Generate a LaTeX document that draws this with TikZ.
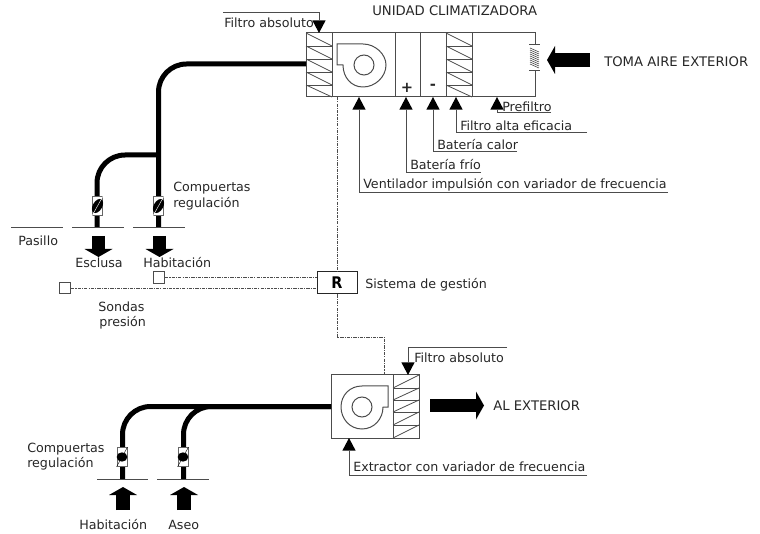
\documentclass[tikz,border=0pt]{standalone}
\usepackage{fontspec}
\setmainfont{DejaVu Sans}
\newfontfamily\regfont{DejaVu Sans Condensed}
\usetikzlibrary{arrows.meta,shapes.geometric}

\tikzset{
    txt/.style={anchor=base west, inner sep=0pt, text=black!85, font=\fontsize{9.5}{12}\selectfont},
    caps/.style={txt, font=\fontsize{9.9}{12}\selectfont},
    unitline/.style={draw=black!70, line width=.75pt},
    leader/.style={draw=black!70, line width=.75pt, -{Triangle[length=9.5pt,width=10pt,line width=0pt,fill=black]}},
    duct/.style={black, line width=3.75pt, rounded corners=21pt},
    blockarrow/.style={black, line width=10pt, -{Triangle[length=6pt,width=21pt,line width=0pt]}},
    signal/.style={black!70, line width=.6pt, dash pattern=on 2.5pt off .8pt on .8pt off .8pt},
    damper/.style={draw=black!60, fill=white, line width=.6pt, inner sep=0pt, minimum width=7.5pt, minimum height=14pt},
    vane/.style={ellipse, fill=black, inner sep=0pt, minimum width=11.5pt, minimum height=7pt, rotate=60},
    vaneround/.style={ellipse, fill=black, inner sep=0pt, minimum width=8pt, minimum height=7pt},
    probe/.style={draw=black!70, fill=white, line width=.6pt, inner sep=0pt, minimum size=8.5pt},
}

\begin{document}
\begin{tikzpicture}[x=.75pt, y=-.75pt]
        \useasboundingbox (0,0) rectangle (760,534);

        % Air handling unit
        \draw[unitline] (535,45) -- (535,33) -- (306,33) -- (306,97) -- (535,97) -- (535,71);
        \draw[unitline] (332,33) -- (332,97);
        \draw[unitline] (395,33) -- (395,97);
        \draw[unitline] (420,33) -- (420,97);
        \draw[unitline] (446,33) -- (446,97);
        \draw[unitline] (472,33) -- (472,97);

        % Absolute filter
        \draw[unitline, line width=.6pt] (306,46) -- (332,46) (306,59) -- (332,59) (306,72) -- (332,72) (306,85) -- (332,85);
        \draw[unitline, line width=.6pt] (306,33) -- (332,46) (306,46) -- (332,59) (306,59) -- (332,72) (306,72) -- (332,85) (306,85) -- (332,97);

        % High efficiency filter
        \draw[unitline, line width=.6pt] (446,46) -- (472,46) (446,59) -- (472,59) (446,72) -- (472,72) (446,85) -- (472,85);
        \draw[unitline, line width=.6pt] (446,33) -- (472,46) (446,46) -- (472,59) (446,59) -- (472,72) (446,72) -- (472,85) (446,85) -- (472,97);

        % Supply fan
        \draw[unitline] (337,44) -- (363,44) .. controls (375,44) and (386,54) .. (386,65) .. controls (386,77) and (375,87) .. (363,87) .. controls (351,87) and (343,77) .. (343,65) -- (337,65) -- cycle;
        \draw[unitline] (364,65) circle[radius=7.5pt];

        % Coil signs
        \node[txt, font=\fontsize{11}{12}\selectfont\bfseries, anchor=center] (plus) at (407,88) {+};
        \node[txt, font=\fontsize{11}{12}\selectfont\bfseries, anchor=center] (minus) at (433,87) {-};

        % Outside air intake
        \draw[unitline] (529,45) -- (540,45);
        \draw[unitline] (529,71) -- (540,71);
        \draw[black!70, line width=.45pt] (530,48) -- (539,52) (530,50) -- (539,54) (530,52) -- (539,56) (530,54) -- (539,58) (530,56) -- (539,60) (530,58) -- (539,62) (530,60) -- (539,64) (530,62) -- (539,66) (530,64) -- (539,68);

        \coordinate (intakeStart) at (590,60);
        \coordinate (intakeEnd) at (547,60);
        \draw[blockarrow] (intakeStart) -- (intakeEnd);

        % Labels of the unit
        \node[caps] (unitTitle) at (372,16) {UNIDAD CLIMATIZADORA};
        \node[caps] (intakeLabel) at (604,67) {TOMA AIRE EXTERIOR};
        \node[txt] (filterLabel) at (224,28) {Filtro absoluto};
        \node[txt] (prefilterLabel) at (502,112) {Prefiltro};
        \node[txt] (hepaLabel) at (460,131) {Filtro alta eficacia};
        \node[txt] (heatLabel) at (437,150) {Batería calor};
        \node[txt] (coldLabel) at (410,170) {Batería frío};
        \node[txt] (fanLabel) at (363,189) {Ventilador impulsión con variador de frecuencia};

        % Leaders
        \coordinate (filterEnd) at (223,13);
        \coordinate (filterTip) at (319,33);
        \draw[leader] (filterEnd) -| (filterTip);
        \coordinate (prefilterEnd) at (551,113);
        \coordinate (prefilterTip) at (497,97);
        \draw[leader] (prefilterEnd) -| (prefilterTip);
        \coordinate (hepaEnd) at (587,133);
        \coordinate (hepaTip) at (456,97);
        \draw[leader] (hepaEnd) -| (hepaTip);
        \coordinate (heatEnd) at (517,152);
        \coordinate (heatTip) at (433,97);
        \draw[leader] (heatEnd) -| (heatTip);
        \coordinate (coldEnd) at (481,173);
        \coordinate (coldTip) at (406,97);
        \draw[leader] (coldEnd) -| (coldTip);
        \coordinate (fanEnd) at (668,193);
        \coordinate (fanTip) at (359,97);
        \draw[leader] (fanEnd) -| (fanTip);

        % Supply ducts
        \coordinate (supplyStart) at (306,64);
        \coordinate (supplyCorner) at (158.5,64);
        \coordinate (roomEnd) at (158.5,228);
        \coordinate (branchStart) at (158.5,155);
        \coordinate (branchCorner) at (97,155);
        \coordinate (lockEnd) at (97,228);
        \draw[duct] (supplyStart) -- (supplyCorner) -- (roomEnd);
        \draw[duct] (branchStart) -- (branchCorner) -- (lockEnd);

        \node[damper] (damperLock) at (97.5,206) {};
        \node[vane] (vaneLock) at (damperLock) {};
        \draw[white, line width=.3pt] (damperLock.south west) -- (damperLock.north east);
        \node[damper] (damperRoom) at (158.5,206) {};
        \node[vane] (vaneRoom) at (damperRoom) {};
        \draw[white, line width=.3pt] (damperRoom.south west) -- (damperRoom.north east);

        % Floor lines
        \draw[unitline] (11,228) -- (63,228);
        \draw[unitline] (72,228) -- (124,228);
        \draw[unitline] (133,228) -- (185,228);

        % Supply air arrows
        \coordinate (lockFrom) at (98.5,236);
        \coordinate (lockTo) at (98.5,257);
        \draw[blockarrow] (lockFrom) -- (lockTo);
        \coordinate (roomFrom) at (159.5,236);
        \coordinate (roomTo) at (159.5,257);
        \draw[blockarrow] (roomFrom) -- (roomTo);

        \node[txt] (damperLabel) at (173,192) {Compuertas};
        \node[txt] (damperLabelb) at (173,208) {regulación};
        \node[txt] (corridor) at (18,246) {Pasillo};
        \node[txt] (lockLabel) at (75,268) {Esclusa};
        \node[txt] (roomLabel) at (143,268) {Habitación};

        % Control system
        \node[draw=black!85, line width=.75pt, minimum width=30pt, minimum height=16.5pt, inner sep=0pt, font=\regfont\fontsize{12}{12}\selectfont\bfseries] (reg) at (337,283) {R};
        \node[txt] (regLabel) at (365,289) {Sistema de gestión};
        \node[probe] (probeRoom) at (159,277.5) {};
        \node[probe] (probeCorridor) at (65,288) {};
        \node[txt] (probeLabel) at (98,312) {Sondas};
        \node[txt] (probeLabelb) at (99,327) {presión};

        \draw[signal] (probeRoom.east) -- (probeRoom.east -| reg.west);
        \draw[signal] (probeCorridor.east) -- (probeCorridor.east -| reg.west);
        \coordinate (unitTap) at (337,97);
        \draw[signal] (unitTap) -- (reg.north);
        \coordinate (exhaustCorner) at (337,337);
        \coordinate (exhaustTap) at (384,375);
        \draw[signal] (reg.south) -- (exhaustCorner) -| (exhaustTap);

        % Exhaust unit
        \draw[unitline] (331,375) rectangle (419,438);
        \draw[unitline] (393,375) -- (393,438);
        \draw[unitline, line width=.6pt] (393,388) -- (419,388) (393,400) -- (419,400) (393,412) -- (419,412) (393,425) -- (419,425);
        \draw[unitline, line width=.6pt] (393,388) -- (419,375) (393,400) -- (419,388) (393,412) -- (419,400) (393,425) -- (419,412) (393,438) -- (419,425);
        \draw[unitline] (388,386) -- (362,386) .. controls (350,386) and (341,395) .. (341,407) .. controls (341,419) and (350,429) .. (362,429) .. controls (374,429) and (383,419) .. (383,407) -- (388,407) -- cycle;
        \draw[unitline] (362,407) circle[radius=7.5pt];

        \coordinate (exhaustFrom) at (430,405.5);
        \coordinate (exhaustTo) at (484,405.5);
        \draw[blockarrow] (exhaustFrom) -- (exhaustTo);
        \node[caps] (exhaustLabel) at (493,410) {AL EXTERIOR};

        \node[txt] (filterLabelb) at (414,363) {Filtro absoluto};
        \coordinate (filterEndb) at (507,348);
        \coordinate (filterTipb) at (408,375);
        \draw[leader] (filterEndb) -| (filterTipb);

        \node[txt] (extractorLabel) at (353,471) {Extractor con variador de frecuencia};
        \coordinate (extractorEnd) at (587,475);
        \coordinate (extractorTip) at (349,438);
        \draw[leader] (extractorEnd) -| (extractorTip);

        % Exhaust ducts
        \coordinate (extractStart) at (331,406.5);
        \coordinate (extractCorner) at (122.5,406.5);
        \coordinate (bathCorner) at (183.5,406.5);
        \coordinate (roomEndb) at (122.5,479);
        \coordinate (bathEnd) at (183.5,479);
        \draw[duct] (extractStart) -- (extractCorner) -- (roomEndb);
        \draw[duct] (extractStart) -- (bathCorner) -- (bathEnd);

        \node[damper] (damperRoomb) at (122,457) {};
        \node[vaneround] (vaneRoomb) at (damperRoomb) {};
        \draw[black, line width=.3pt] (damperRoomb.south west) -- (damperRoomb.north east);
        \node[damper] (damperBath) at (183,457) {};
        \node[vaneround] (vaneBath) at (damperBath) {};
        \draw[black, line width=.3pt] (damperBath.south west) -- (damperBath.north east);

        \draw[unitline] (97,479) -- (148,479);
        \draw[unitline] (157,479) -- (209,479);

        \coordinate (roomFromb) at (123,510);
        \coordinate (roomTob) at (123,487);
        \draw[blockarrow] (roomFromb) -- (roomTob);
        \coordinate (bathFrom) at (184,510);
        \coordinate (bathTo) at (184,487);
        \draw[blockarrow] (bathFrom) -- (bathTo);

        \node[txt] (damperLabelc) at (27,452) {Compuertas};
        \node[txt] (damperLabeld) at (27,467) {regulación};
        \node[txt] (roomLabelb) at (79,529) {Habitación};
        \node[txt] (bathLabel) at (168,529) {Aseo};
\end{tikzpicture}
\end{document}
